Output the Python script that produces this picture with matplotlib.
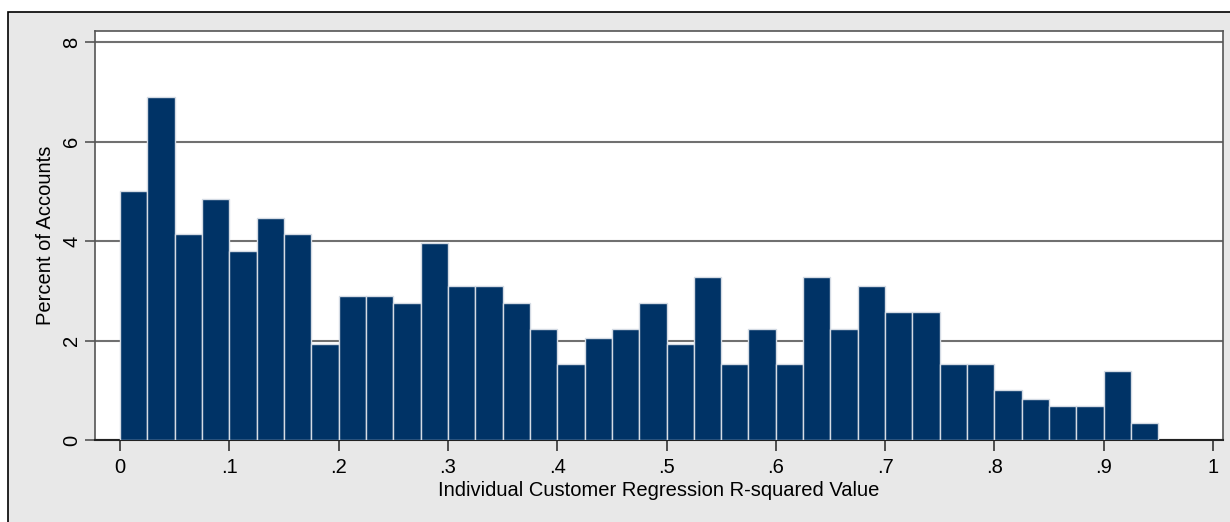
import matplotlib.pyplot as plt
from matplotlib.patches import Rectangle
import numpy as np

# bin edges (width .025) and percent of accounts in each bin
bin_start = 0.0
bin_width = 0.025
percent = [5.0, 6.9, 4.15, 4.85, 3.8, 4.47, 4.15, 1.92, 2.9, 2.9,
           2.75, 3.95, 3.1, 3.1, 2.75, 2.23, 1.52, 2.06, 2.23, 2.75,
           1.92, 3.28, 1.52, 2.23, 1.52, 3.28, 2.23, 3.1, 2.58, 2.58,
           1.52, 1.52, 1.0, 0.83, 0.68, 0.68, 1.38, 0.34]
xticks = [0, .1, .2, .3, .4, .5, .6, .7, .8, .9, 1]
xtick_labels = ['0', '.1', '.2', '.3', '.4', '.5', '.6', '.7', '.8', '.9', '1']
yticks = [0, 2, 4, 6, 8]

plt.rcParams['font.family'] = ['Liberation Sans', 'DejaVu Sans']
plt.rcParams['font.size'] = 14.5

W, H = 1230, 522
fig = plt.figure(figsize=(W / 100, H / 100), dpi=100, facecolor='white')

# stata-like grey outer region with a black frame on top/left
bg = Rectangle((8 / W, -0.1), 1.2, (H - 12) / H + 0.1, transform=fig.transFigure,
               facecolor='#e8e8e8', edgecolor='black', lw=1.2, zorder=-10)
fig.patches.append(bg)

ax = fig.add_axes([95 / W, 1 - 440 / H, (1223 - 95) / W, (440 - 31) / H])
ax.set_zorder(5)
ax.set_facecolor('white')

lefts = bin_start + bin_width * np.arange(len(percent))
ax.bar(lefts, percent, width=bin_width, align='edge', color='#003366',
       edgecolor='#d4dbe4', linewidth=1.0, zorder=3)

ax.set_xlim(-25 / 1093, 1 + 10 / 1093)
ax.set_ylim(0, 8 + 11 / 49.75)

ax.set_yticks(yticks)
ax.set_yticklabels([str(t) for t in yticks], rotation=90, va='center')
ax.set_xticks(xticks)
ax.set_xticklabels(xtick_labels)
ax.yaxis.grid(True, color='#707070', lw=1.5, zorder=1)
ax.set_axisbelow(True)

ax.tick_params(axis='y', length=7, width=1.2, color='#555555', pad=3)
ax.tick_params(axis='x', length=8, width=1.2, color='#333333', pad=5)

for s in ['left', 'top', 'right']:
    ax.spines[s].set_color('#555555')
    ax.spines[s].set_linewidth(1.2)
ax.spines['bottom'].set_color('#222222')
ax.spines['bottom'].set_linewidth(1.5)

ax.set_xlabel('Individual Customer Regression R-squared Value', labelpad=3)
ax.set_ylabel('Percent of Accounts', labelpad=5)

fig.savefig('out.png', dpi=100, facecolor=fig.get_facecolor())
